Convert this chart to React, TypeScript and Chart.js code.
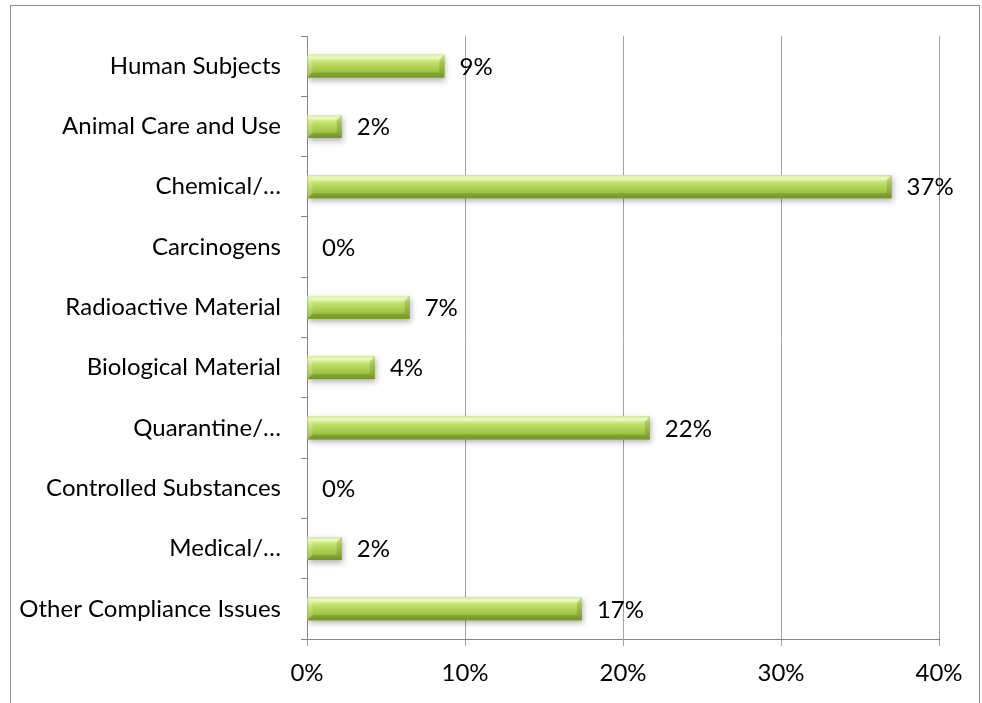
import React, { useEffect, useRef } from "react";
import { Chart, registerables } from "chart.js";

Chart.register(...registerables);

const categories = [
  "Human Subjects",
  "Animal Care and Use",
  "Chemical/…",
  "Carcinogens",
  "Radioactive Material",
  "Biological Material",
  "Quarantine/…",
  "Controlled Substances",
  "Medical/…",
  "Other Compliance Issues",
];
const values = [8.7, 2.2, 37.0, 0, 6.5, 4.3, 21.7, 0, 2.2, 17.4];
const valueLabels = ["9%", "2%", "37%", "0%", "7%", "4%", "22%", "0%", "2%", "17%"];
const xMin = 0;
const xMax = 40;
const xStep = 10;

const FONT = "Lato, 'Open Sans', sans-serif";
const FONT_SIZE = 24;

const bevelPlugin = {
  id: "bevelBars",
  beforeDatasetDraw(chart: any) {
    const ctx = chart.ctx;
    ctx.save();
    ctx.shadowColor = "rgba(0,0,0,0.3)";
    ctx.shadowBlur = 6;
    ctx.shadowOffsetX = 1;
    ctx.shadowOffsetY = 3;
  },
  afterDatasetDraw(chart: any) {
    chart.ctx.restore();
  },
  afterDatasetsDraw(chart: any) {
    const ctx = chart.ctx;
    const meta = chart.getDatasetMeta(0);
    meta.data.forEach((el: any, i: number) => {
      const p = el.getProps(["x", "y", "base", "height"], true);
      const x0 = Math.min(p.base, p.x);
      const x1 = Math.max(p.base, p.x);
      const top = p.y - p.height / 2;
      const bottom = p.y + p.height / 2;
      const w = x1 - x0;
      if (w > 0.5) {
        const g = ctx.createLinearGradient(0, top, 0, bottom);
        g.addColorStop(0, "#cde97f");
        g.addColorStop(0.12, "#e2f6a8");
        g.addColorStop(0.35, "#c0df68");
        g.addColorStop(0.7, "#a2c747");
        g.addColorStop(1, "#84a733");
        ctx.save();
        ctx.fillStyle = g;
        ctx.fillRect(x0, top, w, bottom - top);
        const b = Math.min(5, w / 2);
        ctx.fillStyle = "rgba(255,255,255,0.28)";
        ctx.beginPath();
        ctx.moveTo(x0, top);
        ctx.lineTo(x1, top);
        ctx.lineTo(x1 - b, top + b);
        ctx.lineTo(x0 + b, top + b);
        ctx.closePath();
        ctx.fill();
        ctx.fillStyle = "rgba(255,255,255,0.18)";
        ctx.beginPath();
        ctx.moveTo(x0, top);
        ctx.lineTo(x0 + b, top + b);
        ctx.lineTo(x0 + b, bottom - b);
        ctx.lineTo(x0, bottom);
        ctx.closePath();
        ctx.fill();
        ctx.fillStyle = "rgba(60,85,10,0.22)";
        ctx.beginPath();
        ctx.moveTo(x0, bottom);
        ctx.lineTo(x1, bottom);
        ctx.lineTo(x1 - b, bottom - b);
        ctx.lineTo(x0 + b, bottom - b);
        ctx.closePath();
        ctx.fill();
        ctx.fillStyle = "rgba(70,95,15,0.22)";
        ctx.beginPath();
        ctx.moveTo(x1, top);
        ctx.lineTo(x1, bottom);
        ctx.lineTo(x1 - b, bottom - b);
        ctx.lineTo(x1 - b, top + b);
        ctx.closePath();
        ctx.fill();
        ctx.restore();
      }
      ctx.save();
      ctx.fillStyle = "#000";
      ctx.font = `${FONT_SIZE}px ${FONT}`;
      ctx.textAlign = "left";
      ctx.textBaseline = "middle";
      ctx.fillText(valueLabels[i], x1 + 15, p.y + 1);
      ctx.restore();
    });
  },
};

export default function App() {
  const ref = useRef<HTMLCanvasElement | null>(null);

  useEffect(() => {
    if (!ref.current) return;
    const chart = new Chart(ref.current, {
      type: "bar",
      data: {
        labels: categories,
        datasets: [
          {
            data: values,
            backgroundColor: "#a4c84a",
            borderWidth: 0,
            barPercentage: 0.38,
            categoryPercentage: 1,
          },
        ],
      },
      options: {
        indexAxis: "y",
        responsive: false,
        animation: false,
        devicePixelRatio: 1,
        layout: { padding: { top: 36, right: 43, left: 0, bottom: 0 } },
        plugins: {
          legend: { display: false },
          tooltip: { enabled: false },
          title: { display: false },
        },
        scales: {
          x: {
            min: xMin,
            max: xMax,
            ticks: {
              stepSize: xStep,
              callback: (v: any) => `${v}%`,
              color: "#000",
              font: { family: FONT, size: FONT_SIZE },
              padding: 13,
              maxRotation: 0,
            },
            grid: {
              color: "#a3a3a3",
              lineWidth: 1,
              tickLength: 7,
              drawTicks: true,
            },
            border: { color: "#868686", width: 1 },
            afterFit: (scale: any) => {
              scale.height = 64;
            },
          },
          y: {
            ticks: {
              color: "#000",
              font: { family: FONT, size: FONT_SIZE },
              padding: 20,
              autoSkip: false,
            },
            grid: {
              drawOnChartArea: false,
              tickLength: 6,
              color: "#868686",
              offset: true,
            },
            border: { color: "#868686", width: 1 },
            afterFit: (scale: any) => {
              scale.width = 307;
            },
          },
        },
      } as any,
      plugins: [bevelPlugin],
    });
    return () => chart.destroy();
  }, []);

  return (
    <div
      style={{
        position: "fixed",
        left: 0,
        top: 0,
        width: 982,
        height: 703,
        overflow: "hidden",
        background: "#fff",
      }}
    >
      <div
        style={{
          position: "absolute",
          left: 10,
          top: 5,
          width: 970,
          height: 740,
          border: "1px solid #8e8e8e",
          boxSizing: "border-box",
        }}
      />
      <canvas
        ref={ref}
        width={982}
        height={703}
        style={{ position: "absolute", left: 0, top: 0, width: 982, height: 703 }}
      />
    </div>
  );
}
